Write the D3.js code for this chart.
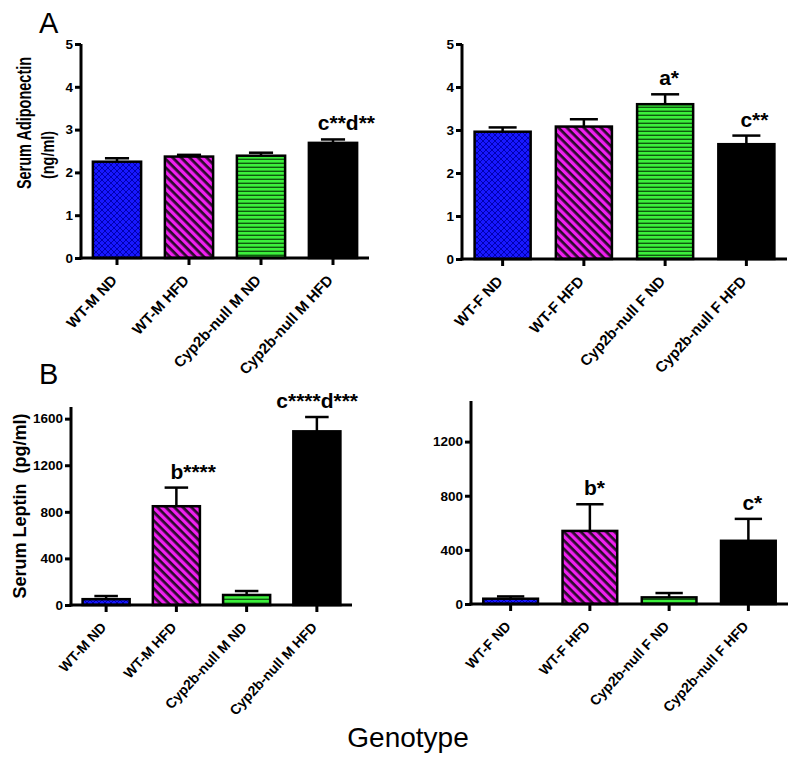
<!DOCTYPE html>
<html>
<head>
<meta charset="utf-8">
<script src="https://cdn.jsdelivr.net/npm/d3@7"></script>
<style>
  html, body { margin: 0; padding: 0; background: #fff; }
  svg { display: block; font-family: "Liberation Sans", Arial, sans-serif; }
</style>
</head>
<body>
<svg id="chart" width="800" height="766"></svg>
<script>
// ---------- data ----------
const categoriesM = ["WT-M ND", "WT-M HFD", "Cyp2b-null M ND", "Cyp2b-null M HFD"];
const categoriesF = ["WT-F ND", "WT-F HFD", "Cyp2b-null F ND", "Cyp2b-null F HFD"];

const adiponectinM    = [2.25, 2.37, 2.39, 2.69];
const adiponectinMErr = [0.08, 0.04, 0.07, 0.08];
const adiponectinF    = [2.96, 3.08, 3.60, 2.67];
const adiponectinFErr = [0.10, 0.17, 0.23, 0.20];

const leptinM    = [50, 848, 86, 1491];
const leptinMErr = [27, 160, 34, 123];
const leptinF    = [39, 540, 49, 467];
const leptinFErr = [17, 197, 32, 162];

const annotAdipoM  = ["", "", "", "c**d**"];
const annotAdipoF  = ["", "", "a*", "c**"];
const annotLeptinM = ["", "b****", "", "c****d***"];
const annotLeptinF = ["", "b*", "", "c*"];

const ticksAdipo   = [0, 1, 2, 3, 4, 5];
const ticksLeptinM = [0, 400, 800, 1200, 1600];
const ticksLeptinF = [0, 400, 800, 1200];

const groupFills = ["url(#pBlue)", "url(#pMagenta)", "url(#pGreen)", "#000000"];

// ---------- drawing ----------
const svg = d3.select("#chart");
const defs = svg.append("defs");

// blue crosshatch
const pb = defs.append("pattern").attr("id", "pBlue").attr("patternUnits", "userSpaceOnUse")
  .attr("width", 6).attr("height", 6);
pb.append("rect").attr("width", 6).attr("height", 6).attr("fill", "#1818ff");
pb.append("path").attr("d", "M0,0 L6,6 M6,0 L0,6").attr("stroke", "#0000b0").attr("stroke-width", 1);

// magenta diagonal stripes
const pm = defs.append("pattern").attr("id", "pMagenta").attr("patternUnits", "userSpaceOnUse")
  .attr("width", 6).attr("height", 6).attr("patternTransform", "rotate(45)");
pm.append("rect").attr("width", 6).attr("height", 6).attr("fill", "#f020f0");
pm.append("rect").attr("width", 6).attr("height", 2.7).attr("fill", "#2a0a2a");

// green horizontal lines
const pg = defs.append("pattern").attr("id", "pGreen").attr("patternUnits", "userSpaceOnUse")
  .attr("width", 4).attr("height", 4);
pg.append("rect").attr("width", 4).attr("height", 4).attr("fill", "#3cf03c");
pg.append("rect").attr("y", 2.6).attr("width", 4).attr("height", 1.4).attr("fill", "#0f5a0f");

const panels = [
  { cats: categoriesM, vals: adiponectinM, errs: adiponectinMErr, ann: annotAdipoM,
    ymax: 5, ticks: ticksAdipo, x0: 81, x1: 369, yTop: 44, yBot: 258, pad: 0.33, lab: 15 },
  { cats: categoriesF, vals: adiponectinF, errs: adiponectinFErr, ann: annotAdipoF,
    ymax: 5, ticks: ticksAdipo, x0: 462, x1: 787, yTop: 44, yBot: 259, pad: 0.31, lab: 15 },
  { cats: categoriesM, vals: leptinM, errs: leptinMErr, ann: annotLeptinM,
    ymax: 1700, ticks: ticksLeptinM, x0: 71, x1: 352, yTop: 407, yBot: 605, pad: 0.33, lab: 14 },
  { cats: categoriesF, vals: leptinF, errs: leptinFErr, ann: annotLeptinF,
    ymax: 1500, ticks: ticksLeptinF, x0: 471, x1: 788, yTop: 401, yBot: 604, pad: 0.31, lab: 14 }
];

panels.forEach(p => {
  const g = svg.append("g");
  const x = d3.scaleBand().domain(p.cats).range([p.x0, p.x1])
    .paddingInner(p.pad).paddingOuter(p.pad / 2);
  const y = d3.scaleLinear().domain([0, p.ymax]).range([p.yBot, p.yTop]);
  const data = p.cats.map((c, i) => ({ c, v: p.vals[i], e: p.errs[i], a: p.ann[i], f: groupFills[i] }));

  // error bars (upper only)
  const eg = g.append("g").attr("stroke", "#000").attr("stroke-width", 2.5);
  const capW = x.bandwidth() * 0.5;
  data.forEach(d => {
    const cx = x(d.c) + x.bandwidth() / 2;
    eg.append("line").attr("x1", cx).attr("x2", cx).attr("y1", y(d.v)).attr("y2", y(d.v + d.e));
    eg.append("line").attr("x1", cx - capW / 2).attr("x2", cx + capW / 2)
      .attr("y1", y(d.v + d.e)).attr("y2", y(d.v + d.e));
  });

  // bars
  g.append("g").selectAll("rect").data(data).join("rect")
    .attr("x", d => x(d.c))
    .attr("y", d => y(d.v))
    .attr("width", x.bandwidth())
    .attr("height", d => y(0) - y(d.v))
    .attr("fill", d => d.f)
    .attr("stroke", "#000")
    .attr("stroke-width", 2.5);

  // annotations: first letter centred over the bar, kept inside the panel
  g.append("g").selectAll("text").data(data.filter(d => d.a)).join("text")
    .attr("y", d => y(d.v + d.e) - 9)
    .attr("text-anchor", "start")
    .attr("font-size", 21)
    .attr("font-weight", "bold")
    .text(d => d.a)
    .each(function (d) {
      const cx = x(d.c) + x.bandwidth() / 2;
      const w = this.getComputedTextLength();
      const start = Math.min(cx - 6, p.x1 + 6 - w);
      d3.select(this).attr("x", start);
    });

  // y axis
  const ya = g.append("g").attr("transform", `translate(${p.x0},0)`)
    .call(d3.axisLeft(y).tickValues(p.ticks).tickSize(6).tickSizeOuter(0).tickPadding(2).tickFormat(d3.format("d")));
  ya.select(".domain").attr("stroke-width", 3).attr("d", `M0,${p.yBot + 1.5}V${p.yTop}`);
  ya.selectAll(".tick line").attr("stroke-width", 3);
  ya.selectAll(".tick text").attr("font-size", 13.5).attr("font-weight", "bold")
    .attr("font-family", "Liberation Sans, Arial, sans-serif").attr("fill", "#000");

  // x axis
  const xa = g.append("g").attr("transform", `translate(0,${p.yBot})`)
    .call(d3.axisBottom(x).tickSize(7).tickSizeOuter(0));
  xa.select(".domain").attr("stroke-width", 3).attr("d", `M${p.x0 - 1.5},0H${p.x1}`);
  xa.selectAll(".tick line").attr("stroke-width", 3);
  xa.selectAll(".tick text")
    .attr("font-size", p.lab).attr("font-weight", "bold")
    .attr("font-family", "Liberation Sans, Arial, sans-serif").attr("fill", "#000")
    .attr("text-anchor", "end")
    .attr("y", 0).attr("dy", 0)
    .attr("transform", "translate(1,23) rotate(-47)");
});

// y-axis titles (top label is horizontally condensed in the reference)
svg.append("text").attr("transform", "translate(31,123) rotate(-90) scale(0.69,1)")
  .attr("text-anchor", "middle").attr("font-size", 21).attr("font-weight", "bold")
  .text("Serum Adiponectin");
svg.append("text").attr("transform", "translate(54,155) rotate(-90) scale(0.76,1)")
  .attr("text-anchor", "middle").attr("font-size", 19).attr("font-weight", "bold")
  .text("(ng/ml)");
svg.append("text").attr("transform", "translate(26,506) rotate(-90)")
  .attr("text-anchor", "middle").attr("font-size", 18).attr("font-weight", "bold")
  .attr("xml:space", "preserve")
  .text("Serum Leptin  (pg/ml)");

// panel letters
svg.append("text").attr("x", 39).attr("y", 33).attr("font-size", 29).text("A");
svg.append("text").attr("x", 39).attr("y", 384).attr("font-size", 29).text("B");

// common x title
svg.append("text").attr("x", 408).attr("y", 747).attr("text-anchor", "middle")
  .attr("font-size", 28).text("Genotype");
</script>
</body>
</html>
